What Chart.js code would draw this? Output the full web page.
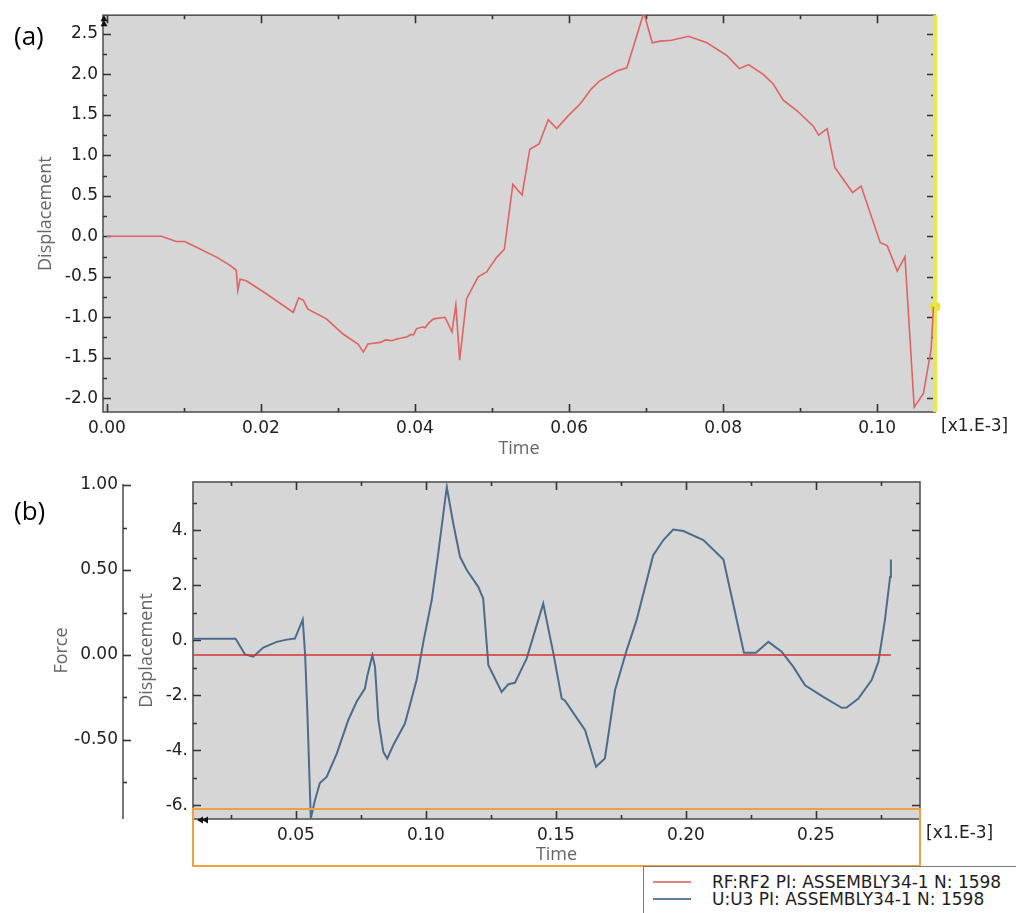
<!DOCTYPE html>
<html><head><meta charset="utf-8">
<script src="https://cdn.jsdelivr.net/npm/chart.js@4.4.1/dist/chart.umd.min.js"></script>
<style>
html,body{margin:0;padding:0;background:#fff;width:1016px;height:913px;overflow:hidden;position:relative}
#wrapA{position:absolute;left:0;top:0;width:1016px;height:460px}
#wrapB{position:absolute;left:0;top:460px;width:1016px;height:453px}
.panel{position:absolute;font-family:'Open Sans',sans-serif;font-size:26px;line-height:1;color:#000}
#legend{position:absolute;left:643px;top:866px;width:390px;height:52px;border:1px solid #7a7a7a;background:#fff;box-sizing:border-box}
.li{position:absolute;left:0;height:18px;width:390px;font-family:'DejaVu Sans',sans-serif;font-size:17px;line-height:18px;color:#1e1e1e;white-space:nowrap}
.li span.sw{position:absolute;left:9px;top:8px;width:38px;height:0;border-top:2px solid}
.li span.tx{position:absolute;left:68px;top:0}
</style></head>
<body>
<div id="wrapA"><canvas id="cA"></canvas></div>
<div id="wrapB"><canvas id="cB"></canvas></div>
<div class="panel" style="left:14px;top:22px">(a)</div>
<div class="panel" style="left:14px;top:497px">(b)</div>
<div id="legend"></div>
<script>
// ---------- DATA: chart (a) ----------
const topTime = [0, 0.0071, 0.0090, 0.0101, 0.0121, 0.0143, 0.0160, 0.0168, 0.0170, 0.0173, 0.0181, 0.0207,
  0.0242, 0.0249, 0.0255, 0.0261, 0.0285, 0.0307, 0.0326, 0.0333, 0.0339, 0.0355, 0.0362, 0.0370, 0.0376,
  0.0381, 0.0390, 0.0395, 0.0398, 0.0402, 0.0410, 0.0413, 0.0418, 0.0424, 0.0439, 0.0448, 0.0453, 0.0458,
  0.0467, 0.0482, 0.0493, 0.0506, 0.0516, 0.0527, 0.0539, 0.0549, 0.0561, 0.0573, 0.0584, 0.0599, 0.0614,
  0.0629, 0.0640, 0.0662, 0.0675, 0.0697, 0.0708, 0.0718, 0.0733, 0.0755, 0.0779, 0.0805, 0.0821, 0.0833,
  0.0852, 0.0865, 0.0878, 0.0896, 0.0917, 0.0924, 0.0935, 0.0945, 0.0968, 0.0979, 0.1004, 0.1013, 0.1026,
  0.1036, 0.1048, 0.1060, 0.1070, 0.1073];
const topDisp = [0, 0, -0.065, -0.065, -0.156, -0.26, -0.36, -0.42, -0.67, -0.53, -0.55, -0.71,
  -0.94, -0.76, -0.79, -0.90, -1.02, -1.21, -1.33, -1.43, -1.33, -1.31, -1.28, -1.29, -1.27,
  -1.26, -1.24, -1.21, -1.22, -1.14, -1.12, -1.13, -1.07, -1.02, -1.00, -1.18, -0.85, -1.53,
  -0.77, -0.50, -0.44, -0.26, -0.16, 0.64, 0.51, 1.075, 1.14, 1.44, 1.33, 1.49, 1.63,
  1.82, 1.92, 2.04, 2.08, 2.76, 2.39, 2.41, 2.42, 2.47, 2.39, 2.23, 2.07, 2.12,
  2.00, 1.88, 1.68, 1.55, 1.36, 1.25, 1.33, 0.85, 0.54, 0.62, -0.08, -0.115, -0.43,
  -0.25, -2.11, -1.94, -1.39, -0.87];
const cursorTime = [0.1075];
const cursorDisp = [-0.87];
const topXTicks = [0, 0.02, 0.04, 0.06, 0.08, 0.10];
const topXMinor = [0.01, 0.03, 0.05, 0.07, 0.09];
const topYTicks = [-2.0, -1.5, -1.0, -0.5, 0.0, 0.5, 1.0, 1.5, 2.0, 2.5];
const topYMinor = [-1.75, -1.25, -0.75, -0.25, 0.25, 0.75, 1.25, 1.75, 2.25];

// ---------- DATA: chart (b) ----------
const seriesNames = ['RF:RF2 PI: ASSEMBLY34-1 N: 1598', 'U:U3 PI: ASSEMBLY34-1 N: 1598'];
const forceTime = [0.0104, 0.2788];
const forceValues = [0, 0];
const dispTime = [0.0104, 0.0268, 0.0304, 0.0336, 0.0374, 0.0426, 0.0464, 0.0496, 0.0526, 0.0535, 0.0544,
  0.0557, 0.0573, 0.0592, 0.0618, 0.0657, 0.0701, 0.0733, 0.0765, 0.0774, 0.0794, 0.0804, 0.0817, 0.0836,
  0.0851, 0.0874, 0.0919, 0.0964, 0.0990, 0.1022, 0.1047, 0.1080, 0.1105, 0.1131, 0.1157, 0.1201, 0.1220,
  0.1240, 0.1291, 0.1317, 0.1342, 0.1387, 0.1451, 0.1490, 0.1522, 0.1535, 0.1560, 0.1612, 0.1654, 0.1688,
  0.1727, 0.1772, 0.1810, 0.1874, 0.1913, 0.1951, 0.1990, 0.2067, 0.2144, 0.2223, 0.2269, 0.2317, 0.2368,
  0.2413, 0.2458, 0.2528, 0.2599, 0.2618, 0.2663, 0.2714, 0.2740, 0.2765, 0.2785, 0.2788];
const dispValues = [0.05, 0.05, -0.52, -0.60, -0.27, -0.06, 0.02, 0.06, 0.75, -0.48, -2.67,
  -6.48, -5.82, -5.19, -4.97, -4.12, -2.91, -2.24, -1.76, -1.31, -0.55, -0.97, -2.91, -4.06,
  -4.30, -3.82, -3.03, -1.45, -0.06, 1.45, 3.15, 5.57, 4.24, 3.03, 2.55, 1.94, 1.52,
  -0.91, -1.88, -1.60, -1.55, -0.67, 1.33, -0.48, -2.12, -2.20, -2.55, -3.27, -4.60, -4.30,
  -1.82, -0.36, 0.73, 3.09, 3.64, 4.02, 3.97, 3.64, 2.93, -0.46, -0.46, -0.06, -0.42,
  -0.97, -1.64, -2.06, -2.46, -2.45, -2.12, -1.45, -0.79, 0.73, 2.30, 2.93];
const botXTicks = [0.05, 0.10, 0.15, 0.20, 0.25];
const botXMinor = [0.025, 0.075, 0.125, 0.175, 0.225, 0.275];
const dispTicks = [-6, -4, -2, 0, 2, 4];
const dispMinor = [-5, -3, -1, 1, 3, 5];
const forceTicks = [-0.5, 0, 0.5, 1.0];
const forceMinor = [-0.75, -0.25, 0.25, 0.75];

const seriesColors = ['#cf3434', '#4d6b8c'];

// ---------- styling ----------
const tickFont = {family: "'DejaVu Sans', sans-serif", size: 17};
const titleFont = {family: "'Open Sans', sans-serif", size: 18};
const tickColor = '#222';
const titleColor = '#666';
const frameColor = '#555';

function tri(ctx, x, y, dir) {
  ctx.beginPath();
  if (dir === 'up') { ctx.moveTo(x - 3.5, y + 3); ctx.lineTo(x + 3.5, y + 3); ctx.lineTo(x, y - 3); }
  else { ctx.moveTo(x + 3, y - 3.5); ctx.lineTo(x + 3, y + 3.5); ctx.lineTo(x - 3, y); }
  ctx.closePath(); ctx.fill();
}

function makeFrame(specs, orange) {
  return {
    id: 'frame' + (orange ? 'B' : 'A'),
    beforeDatasetsDraw(chart) {
      const ctx = chart.ctx, a = chart.chartArea;
      ctx.save();
      ctx.fillStyle = '#d6d6d6';
      ctx.fillRect(a.left, a.top, a.right - a.left, a.bottom - a.top);
      ctx.strokeStyle = frameColor;
      ctx.lineWidth = 1.6;
      ctx.strokeRect(a.left, a.top, a.right - a.left, a.bottom - a.top);
      specs.forEach(spec => {
        const s = chart.scales[spec.scale];
        if (spec.axisOnly) {
          ctx.strokeStyle = frameColor;
          ctx.lineWidth = 1.6;
          ctx.beginPath();
          ctx.moveTo(s.right, s.getPixelForValue(spec.major[spec.major.length - 1]) - 1);
          ctx.lineTo(s.right, a.bottom);
          ctx.stroke();
        }
        [[spec.major, 8], [spec.minor, 4]].forEach(pair => {
          const vals = pair[0], len = pair[1];
          ctx.strokeStyle = '#333';
          ctx.lineWidth = 1.6;
          vals.forEach(v => {
            const p = Math.round(s.getPixelForValue(v)) + 0.5;
            ctx.beginPath();
            if (spec.axisOnly) {
              ctx.moveTo(s.right, p); ctx.lineTo(s.right + len, p);
            } else if (s.isHorizontal()) {
              ctx.moveTo(p, a.bottom); ctx.lineTo(p, a.bottom - len);
              ctx.moveTo(p, a.top); ctx.lineTo(p, a.top + len);
            } else {
              ctx.moveTo(a.left, p); ctx.lineTo(a.left + len, p);
              ctx.moveTo(a.right, p); ctx.lineTo(a.right - len, p);
            }
            ctx.stroke();
          });
        });
      });
      ctx.restore();
    },
    afterDraw(chart) {
      const ctx = chart.ctx, a = chart.chartArea;
      ctx.save();
      ctx.font = "17px 'DejaVu Sans', sans-serif";
      ctx.fillStyle = tickColor;
      ctx.textAlign = 'left';
      ctx.textBaseline = 'middle';
      ctx.fillText('[x1.E-3]', a.right + 6, a.bottom + 15);
      ctx.fillStyle = '#111';
      if (orange) {
        ctx.strokeStyle = '#f0a040';
        ctx.lineWidth = 2;
        ctx.strokeRect(a.left, a.bottom - 10, a.right - a.left, chart.height - 47 - (a.bottom - 10));
        tri(ctx, a.left + 7, a.bottom + 1, 'left');
        tri(ctx, a.left + 12, a.bottom + 1, 'left');
      } else {
        tri(ctx, a.left + 1, a.top + 3, 'up');
        tri(ctx, a.left + 1, a.top + 8, 'up');
      }
      ctx.restore();
    }
  };
}

function pts(xs, ys) { return xs.map((x, i) => ({x: x, y: ys[i]})); }
function fixTicks(arr) { return s => { s.ticks = arr.map(v => ({value: v})); }; }

// ---------- chart (a) ----------
const topYMin = -2.17, topYMax = 2.73;
new Chart(document.getElementById('cA'), {
  type: 'line',
  data: {datasets: [
    {data: pts(topTime, topDisp), borderColor: '#e06262', borderWidth: 1.6, pointRadius: 0, tension: 0},
    {data: [{x: cursorTime[0], y: topYMin}, {x: cursorTime[0], y: topYMax}], borderColor: '#e8e84c',
      borderWidth: 4, pointRadius: 0, clip: false},
    {data: pts(cursorTime, cursorDisp), showLine: false, pointRadius: 5, pointBackgroundColor: '#e3e33c',
      pointBorderColor: '#e3e33c', clip: false}
  ]},
  options: {
    responsive: true, maintainAspectRatio: false, animation: false,
    layout: {padding: {top: 12, right: 81, left: 0, bottom: 0}},
    plugins: {legend: {display: false}, tooltip: {enabled: false}},
    scales: {
      x: {type: 'linear', min: -0.0005, max: 0.1075, afterBuildTicks: fixTicks(topXTicks),
        afterFit: s => { s.height = 48; },
        ticks: {font: tickFont, color: tickColor, padding: 6, maxRotation: 0, autoSkip: false, callback: v => v.toFixed(2)},
        grid: {drawOnChartArea: false, drawTicks: false}, border: {display: false},
        title: {display: true, text: 'Time', font: titleFont, color: titleColor, padding: {top: 0, bottom: 0}}},
      y: {type: 'linear', min: topYMin, max: topYMax, afterBuildTicks: fixTicks(topYTicks),
        afterFit: s => { s.width = 103; },
        ticks: {font: tickFont, color: tickColor, padding: 5, autoSkip: false, callback: v => v.toFixed(1)},
        grid: {drawOnChartArea: false, drawTicks: false}, border: {display: false},
        title: {display: true, text: 'Displacement', font: titleFont, color: titleColor, padding: {top: 35, bottom: 0}}}
    }
  },
  plugins: [makeFrame([{scale: 'x', major: topXTicks, minor: topXMinor}, {scale: 'y', major: topYTicks, minor: topYMinor}], false)]
});

// ---------- chart (b) ----------
new Chart(document.getElementById('cB'), {
  type: 'line',
  data: {datasets: [
    {label: seriesNames[0], data: pts(forceTime, forceValues), yAxisID: 'yF', borderColor: seriesColors[0],
      borderWidth: 1.6, pointRadius: 0, tension: 0},
    {label: seriesNames[1], data: pts(dispTime, dispValues), yAxisID: 'yD', borderColor: seriesColors[1],
      borderWidth: 2, pointRadius: 0, tension: 0}
  ]},
  options: {
    responsive: true, maintainAspectRatio: false, animation: false,
    layout: {padding: {top: 22, right: 96, left: 0, bottom: 0}},
    plugins: {legend: {display: false}, tooltip: {enabled: false}},
    scales: {
      x: {type: 'linear', min: 0.0104, max: 0.29, afterBuildTicks: fixTicks(botXTicks),
        afterFit: s => { s.height = 94; },
        ticks: {font: tickFont, color: tickColor, padding: 6, maxRotation: 0, autoSkip: false, callback: v => v.toFixed(2)},
        grid: {drawOnChartArea: false, drawTicks: false}, border: {display: false},
        title: {display: true, text: 'Time', font: titleFont, color: titleColor, padding: {top: 0, bottom: 47}}},
      yD: {type: 'linear', position: 'left', weight: 0, min: -6.5, max: 5.75, afterBuildTicks: fixTicks(dispTicks),
        afterFit: s => { s.width = 70; },
        ticks: {font: tickFont, color: tickColor, padding: 5, autoSkip: false, callback: v => v.toFixed(0) + '.'},
        grid: {drawOnChartArea: false, drawTicks: false}, border: {display: false},
        title: {display: true, text: 'Displacement', font: titleFont, color: titleColor, padding: {top: 13, bottom: 0}}},
      yF: {type: 'linear', position: 'left', weight: 1, min: -0.965, max: 1.018, afterBuildTicks: fixTicks(forceTicks),
        afterFit: s => { s.width = 123; },
        ticks: {font: tickFont, color: tickColor, padding: 5, autoSkip: false, callback: v => v.toFixed(2)},
        grid: {drawOnChartArea: false, drawTicks: false}, border: {display: false},
        title: {display: true, text: 'Force', font: titleFont, color: titleColor, padding: {top: 51, bottom: 0}}}
    }
  },
  plugins: [makeFrame([
    {scale: 'x', major: botXTicks, minor: botXMinor},
    {scale: 'yD', major: dispTicks, minor: dispMinor},
    {scale: 'yF', major: forceTicks, minor: forceMinor, axisOnly: true}], true)]
});

// ---------- legend ----------
const lg = document.getElementById('legend');
seriesNames.forEach((name, i) => {
  const d = document.createElement('div');
  d.className = 'li';
  d.style.top = (6 + i * 17) + 'px';
  d.innerHTML = '<span class="sw" style="border-color:' + (i === 0 ? '#e08080' : '#5a7fa0') + '"></span><span class="tx"></span>';
  d.querySelector('.tx').textContent = name;
  lg.appendChild(d);
});
</script>
</body></html>
